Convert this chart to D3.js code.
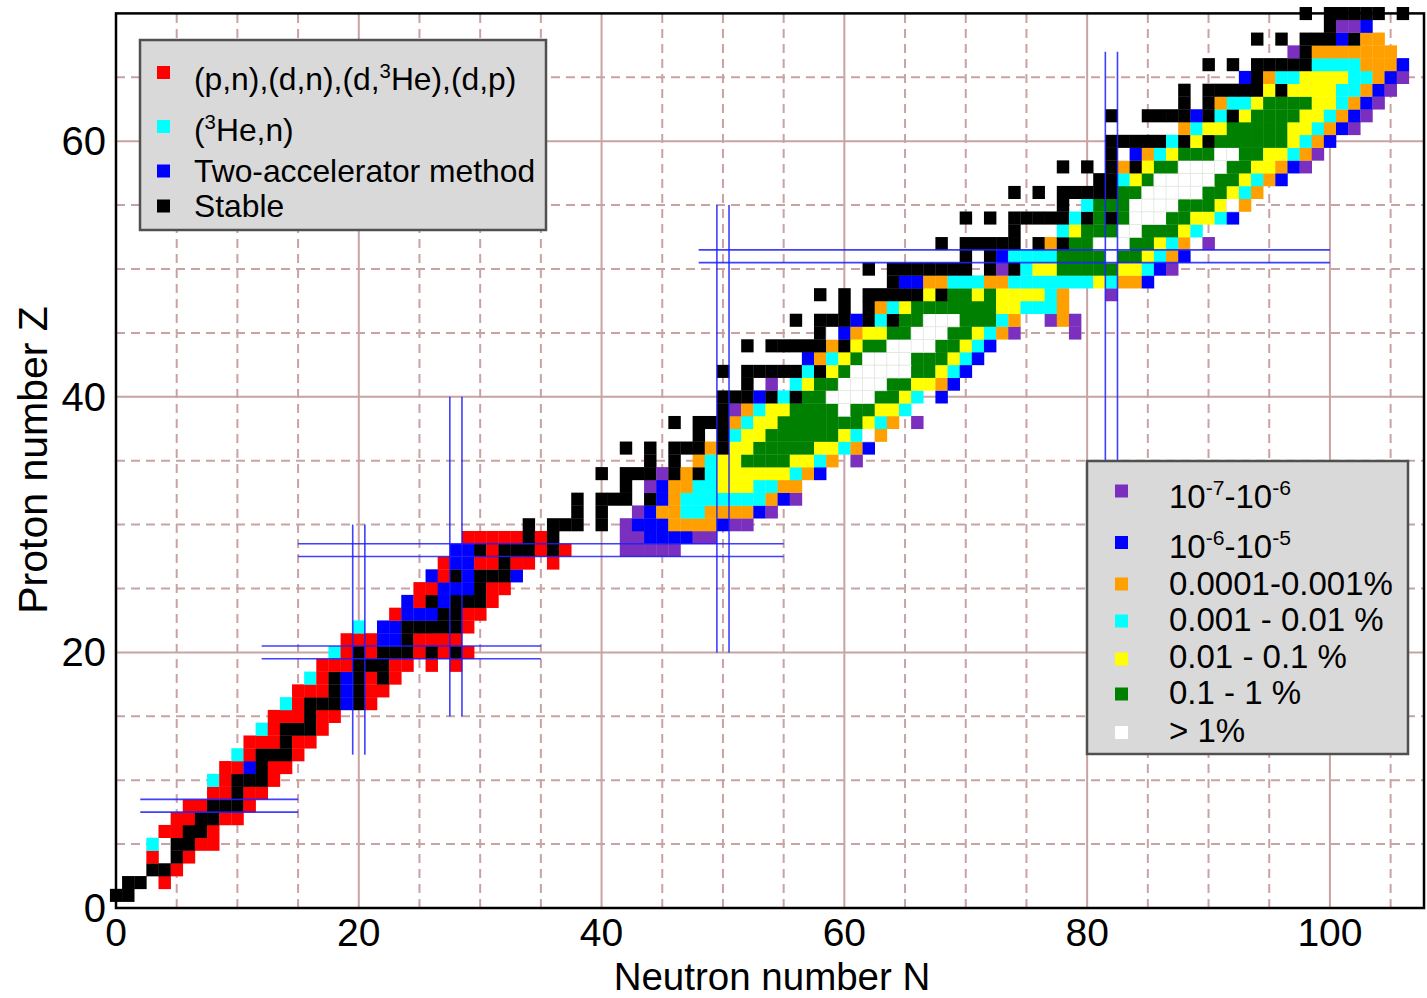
<!DOCTYPE html>
<html>
<head>
<meta charset="utf-8">
<script src="https://cdn.jsdelivr.net/npm/d3@7"></script>
<style>
	body { margin: 0; background: #fff; }
	svg text { font-family: "Liberation Sans", Arial, sans-serif; fill: #000; }
</style>
</head>
<body>
<div class="diagram"></div>
<script>
var width = 1427, height = 998;

// axis ticks
var nTicks = [0, 20, 40, 60, 80, 100];
var zTicks = [0, 20, 40, 60];

// legend texts
var reactionLegend = ['R', 'H', 'A', 'K'];
var yieldLegend = ['P', 'B', 'O', 'C', 'Y', 'G', 'W'];

// light nuclei: production method (K stable, R (p,n)..., H (3He,n), A two-accelerator)
var lightRows = [
	[1, "K0-1"],
	[2, "K1-2 R4"],
	[3, "K3-4 R5"],
	[4, "R3 K5 R6"],
	[5, "H3 K5-6 R7-8"],
	[6, "R4-5 K6-7 R8"],
	[7, "R5-6 K7-8 R9-10"],
	[8, "R6-7 K8-10 R11"],
	[9, "R8-9 K10 R11-12"],
	[10, "H8 R9 K10-12 R13"],
	[11, "R9-10 A11 K12 R13-14"],
	[12, "H10 R11 K12-14 R15"],
	[13, "R11-13 K14 R15-16"],
	[14, "H12 R13 K14-16 R17"],
	[15, "R13-15 K16 R17-18"],
	[16, "H14 R15 K16-18 A19 K20 R21"],
	[17, "R15-17 K18 A19 K20 R21-22"],
	[18, "H16 R17 K18 A19 K20 R21 K22 R23"],
	[19, "R17-19 K20-22 R23-24 R26 R28"],
	[20, "H18 R19 K20 R21 K22-24 R25 K26 R27 K28 R29"],
	[21, "R19-21 A22-23 K24 R25-28"],
	[22, "H20 A22-23 K24-28 R29"],
	[23, "R23 A24-26 K27-28 R29-30"],
	[24, "A24 R25 K26 A27 K28-30 R31"],
	[25, "R25-26 A27-29 K30 R31-32"],
	[26, "A26 R27 K28 A29 K30-32 A33"],
	[27, "R27 A28-29 R30-31 K32 R33-34 R36"],
	[28, "A28-29 K30 R31 K32-34 R35 K36 R37"],
	[29, "R29-33 K34 R35 K36"]
];

// heavier nuclei: abundance class (P 1e-7..1e-6, B 1e-6..1e-5, O, C, Y, G, W >1%)
var yieldRows = [
	[28, "P42-46"],
	[29, "P42-43 B44-47 P48-49"],
	[30, "K34 K36-38 K40 P42 B43-45 O46-49 B50 P51-52"],
	[31, "K38 K40 P43 B44 O45-46 C47-48 O49-52 B53 P54"],
	[32, "K38 K40-42 K44 B45 O46 C47-53 O54 B55 P56"],
	[33, "K42 P44 B45 O46-47 C48-49 Y50-52 C53-54 O55-56"],
	[34, "K40 K42-44 P45 K46 O47 K48 C49 Y50-55 C56 O57 B58"],
	[35, "K44 K46 O48 C49 Y50-51 G52-55 Y56-57 C58 O59 P61"],
	[36, "K42 K44 K46-48 O49 K50 Y51-52 G53-57 Y58-59 C60 O61 B62"],
	[37, "K48 K50 C51 Y52-53 G54-59 Y60 C61 W62 O63"],
	[38, "K46 K48-50 O51 C52 Y53-54 G55-61 Y62 C63 O64 P66"],
	[39, "K50 P51 O52 C53 Y54-55 G56-59 W60 G61-62 Y63-64 C65"],
	[40, "K50-52 B53 K54 C55 K56 G57-58 W59-62 G63-64 Y65 C66 B68"],
	[41, "K52 P54 C56 Y57 G58-59 W60-63 G64-65 Y66-67 O68 B69"],
	[42, "K50 K52-56 C57 K58 Y59 G60 W61-65 G66-67 Y68 C69 B70"],
	[43, "B57 O58 C59 Y60 G61 W62-65 G66-68 Y69 C70 B71"],
	[44, "K52 K54-58 O59 K60 Y61 G62-63 W64-67 G68-69 Y70 C71 B72"],
	[45, "K58 W59 B60 O61 Y62-63 G64-65 W66-68 G69-70 Y71 C72 O73 P74 P79"],
	[46, "K56 K58-60 B61 K62 C63 K64 G65-66 W67-69 G70-72 C73 O74 P77 O78 P79"],
	[47, "K60 K62 O63 C64 Y65 G66-72 Y73-74 C75-77 O78"],
	[48, "K58 K60 K62-66 Y67 K68 G69-70 Y71 G72 Y73-76 C77 O78 P82"],
	[49, "K64 B65-66 O67-68 C69-71 O72-73 C74-80 Y81 C82 O83-84 B85"],
	[50, "K62 K64-70 K72 P73 K74 C75 Y76-77 G78-82 Y83-84 C85 B86 P87"],
	[51, "K70 K72 B73 C74-77 G78-81 W82 G83-84 Y85 C86 O87 B88"],
	[52, "K68 K70-74 K76 O77 K78 G79-80 W81-83 G84-85 Y86 C87 O88 W89 P90"],
	[53, "K74 C78 Y79 G80-82 W83-84 G85-87 Y88 C89"],
	[54, "K70 K72 K74-78 C79 K80 G81 K82 G83 W84-86 G87-88 Y89-90 C91 B92"],
	[55, "K78 C80 G81-83 W84-87 G88-90 Y91 W92 O93"],
	[56, "K74 K76 K78-82 G83-84 W85-89 G90-91 Y92 C93 O94"],
	[57, "K81-82 C83 Y84 G85 W86-90 G91-92 Y93 C94 O95 B96"],
	[58, "K78 K80 K82 O83 K84 Y85 G86-87 W88-91 G92-93 Y94-95 O96 B97 P98"],
	[59, "K82 W83 B84 O85 C86 Y87 G88-90 W91-92 G93-94 Y95-96 C97 O98 P99"],
	[60, "K82-86 C87 K88 Y89 K90 G91-96 Y97 C98 O99 B100"],
	[61, "O88 C89 Y90-91 G92-96 Y97-98 C99 O100 B101 P102"],
	[62, "K82 K85-88 B89 K90 C91 K92 Y93 G94-97 Y98-99 C100 O101 B102 P103"],
	[63, "K88 K90 O91 C92-93 Y94 G95-98 Y99-100 C101 O102 B103 P104"],
	[64, "K88 K90-94 Y95 K96 Y97-100 C101-102 O103 B104 P105"],
	[65, "B93 K94 O95 C96-97 Y98-101 C102-103 O104 B105 P106"],
	[66, "K90 K92 K94-98 C99-102 O103-105 B106"],
	[67, "P97 K98 O99-105"],
	[68, "K94 K96 K98-100 B101 K102 O103-104"],
	[69, "K100 P101-102 B103"],
	[70, "K98 K100-104 K106"]
];

// magic number bands: [axis, centre, from, to]
var magicLines = [
	['Z', 8, 2, 15],
	['N', 20, 12, 30],
	['Z', 20, 12, 35],
	['N', 28, 15, 40],
	['Z', 28, 15, 55],
	['N', 50, 20, 55],
	['Z', 51, 48, 100],
	['N', 82, 35, 67]
];

var colour = {
	K: '#000000', R: '#ff0000', H: '#00ffff', A: '#0000ff',
	P: '#7b2fbe', B: '#0000ff', O: '#ffa000', C: '#00ffff',
	Y: '#ffff00', G: '#008000', W: '#ffffff'
};

function parseRows(rows) {
	var out = [];
	rows.forEach(function(r) {
		r[1].split(/\s+/).forEach(function(tok) {
			var code = tok[0];
			var p = tok.slice(1).split('-').map(Number);
			var hi = p.length > 1 ? p[1] : p[0];
			for (var n = p[0]; n <= hi; n++) out.push({ z: r[0], n: n, code: code });
		});
	});
	return out;
}

var cells = parseRows(lightRows).concat(parseRows(yieldRows));

var x = d3.scaleLinear().domain([0, 107.75]).range([116, 1424]);
var y = d3.scaleLinear().domain([0, 70]).range([908, 13.4]);
var cw = x(1) - x(0), ch = y(0) - y(1);

var svg = d3.select('.diagram')
	.append('svg')
	.attr('width', width)
	.attr('height', height);

// grid
var grid = svg.append('g').attr('class', 'grid');
grid.selectAll('.vgrid')
	.data(d3.range(5, 106, 5))
	.enter().append('line')
	.attr('x1', function(d) { return x(d); })
	.attr('x2', function(d) { return x(d); })
	.attr('y1', y(0)).attr('y2', y(70))
	.attr('stroke', '#c9a3a3')
	.attr('stroke-width', 2)
	.attr('stroke-dasharray', function(d) { return d % 20 === 0 ? null : '9,6'; });
grid.selectAll('.hgrid')
	.data(d3.range(5, 70, 5))
	.enter().append('line')
	.attr('y1', function(d) { return y(d); })
	.attr('y2', function(d) { return y(d); })
	.attr('x1', x(0)).attr('x2', x(107.75))
	.attr('stroke', '#c9a3a3')
	.attr('stroke-width', 2)
	.attr('stroke-dasharray', function(d) { return d % 20 === 0 ? null : '9,6'; });

// nuclide cells
svg.append('g')
	.attr('class', 'cells')
	.selectAll('rect')
	.data(cells)
	.enter().append('rect')
	.attr('x', function(d) { return x(d.n - 0.5); })
	.attr('y', function(d) { return y(d.z + 0.5); })
	.attr('width', cw + 0.3)
	.attr('height', ch + 0.3)
	.attr('fill', function(d) { return colour[d.code]; })
	.attr('stroke', function(d) { return d.code === 'W' ? '#dfe6df' : 'none'; })
	.attr('stroke-width', 0.8);

// magic numbers
var magic = svg.append('g').attr('class', 'magic');
magicLines.forEach(function(m) {
	[-0.5, 0.5].forEach(function(off) {
		var l = magic.append('line')
			.attr('stroke', '#1f1fff')
			.attr('stroke-width', 1.6)
			.attr('opacity', 0.85);
		if (m[0] === 'Z') {
			l.attr('x1', x(m[2])).attr('x2', x(m[3]))
				.attr('y1', y(m[1] + off)).attr('y2', y(m[1] + off));
		} else {
			l.attr('y1', y(m[2])).attr('y2', y(m[3]))
				.attr('x1', x(m[1] + off)).attr('x2', x(m[1] + off));
		}
	});
});

// frame
svg.append('rect')
	.attr('x', x(0)).attr('y', y(70))
	.attr('width', x(107.75) - x(0)).attr('height', y(0) - y(70))
	.attr('fill', 'none')
	.attr('stroke', '#000')
	.attr('stroke-width', 2.5);

// tick labels
svg.selectAll('.xlab')
	.data(nTicks)
	.enter().append('text')
	.attr('x', function(d) { return x(d); })
	.attr('y', 946)
	.attr('text-anchor', 'middle')
	.attr('font-size', 39)
	.text(function(d) { return d; });
svg.selectAll('.ylab')
	.data(zTicks)
	.enter().append('text')
	.attr('x', 106)
	.attr('y', function(d) { return y(d) + 14; })
	.attr('text-anchor', 'end')
	.attr('font-size', 40)
	.text(function(d) { return d; });

svg.append('text')
	.attr('x', 772).attr('y', 989.5)
	.attr('text-anchor', 'middle')
	.attr('font-size', 38.5)
	.text('Neutron number N');
svg.append('text')
	.attr('transform', 'translate(47,460) rotate(-90)')
	.attr('text-anchor', 'middle')
	.attr('font-size', 41)
	.text('Proton number Z');

// legend helpers
function addLine(g, xPos, yPos, size, parts) {
	var t = g.append('text').attr('x', xPos).attr('y', yPos).attr('font-size', size);
	parts.forEach(function(p) {
		if (typeof p === 'string') {
			t.append('tspan').attr('baseline-shift', '0').attr('font-size', size).text(p);
		} else {
			t.append('tspan').attr('baseline-shift', '62%').attr('font-size', size * 0.64).text(p.sup);
		}
	});
}

// reaction legend
var leg1 = svg.append('g');
leg1.append('rect')
	.attr('x', 140).attr('y', 40).attr('width', 406).attr('height', 190)
	.attr('fill', '#d9d9d9').attr('stroke', '#505050').attr('stroke-width', 2.5);
var leg1Y = [72.5, 126.5, 171, 206];
var leg1Base = [90, 141, 182, 217];
var leg1Text = [
	['(p,n),(d,n),(d,', { sup: '3' }, 'He),(d,p)'],
	['(', { sup: '3' }, 'He,n)'],
	['Two-accelerator method'],
	['Stable']
];
reactionLegend.forEach(function(c, i) {
	leg1.append('rect')
		.attr('x', 157).attr('y', leg1Y[i] - 6.5).attr('width', 13).attr('height', 13)
		.attr('fill', colour[c]);
	addLine(leg1, 194, leg1Base[i], 31.8, leg1Text[i]);
});

// abundance legend
var leg2 = svg.append('g');
leg2.append('rect')
	.attr('x', 1087).attr('y', 461).attr('width', 321).attr('height', 293)
	.attr('fill', '#d9d9d9').attr('stroke', '#505050').attr('stroke-width', 2.5);
var leg2Y = [491, 542.5, 584, 621, 659, 694, 732.5];
var leg2Base = [508, 558, 595, 631, 668, 704, 742];
var leg2Text = [
	['10', { sup: '-7' }, '-10', { sup: '-6' }],
	['10', { sup: '-6' }, '-10', { sup: '-5' }],
	['0.0001-0.001%'],
	['0.001 - 0.01 %'],
	['0.01 - 0.1 %'],
	['0.1 - 1 %'],
	['> 1%']
];
yieldLegend.forEach(function(c, i) {
	leg2.append('rect')
		.attr('x', 1115).attr('y', leg2Y[i] - 6.5).attr('width', 13).attr('height', 13)
		.attr('fill', colour[c]);
	addLine(leg2, 1169, leg2Base[i], 33, leg2Text[i]);
});
</script>
</body>
</html>
